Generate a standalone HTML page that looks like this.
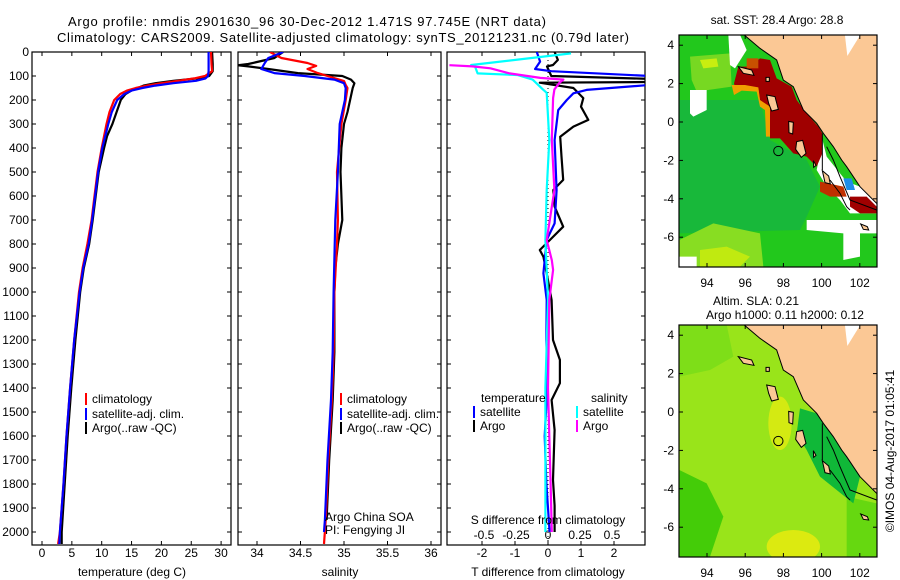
<!DOCTYPE html>
<html><head><meta charset="utf-8"><style>
html,body{margin:0;padding:0;background:#fff;}
svg{display:block;font-family:"Liberation Sans",sans-serif;}
text{font-size:12px;fill:#000;}
</style></head><body>
<svg id="chart" width="900" height="580" viewBox="0 0 900 580" xmlns="http://www.w3.org/2000/svg">
<defs>
<clipPath id="c1"><rect x="32" y="52" width="199" height="493"/></clipPath>
<clipPath id="c2"><rect x="238" y="52" width="203" height="493"/></clipPath>
<clipPath id="c3"><rect x="447" y="52" width="198" height="493"/></clipPath>
<clipPath id="m1"><rect x="679" y="35" width="198" height="232"/></clipPath>
<clipPath id="m2"><rect x="679" y="325" width="198" height="232"/></clipPath>
</defs>
<text x="68" y="26" textLength="478" style="font-size:13px">Argo profile: nmdis 2901630_96 30-Dec-2012 1.471S 97.745E (NRT data)</text>
<text x="57" y="42" textLength="572" style="font-size:13px">Climatology: CARS2009. Satellite-adjusted climatology: synTS_20121231.nc (0.79d later)</text>
<g id="plots"></g>
<g id="maps"></g>
</svg>
<script>
// ---- Temperature panel data ----
const tDepth = [0,50,80,100,110,120,130,140,150,160,175,200,250,300,350,400,500,600,700,800,900,1000,1200,1400,1600,1800,2000,2050];
const tClim  = [28.3,28.4,28.5,27.3,25.5,22.8,20,17.6,15.7,14.3,13.1,12.1,11.3,10.8,10.4,10.0,9.3,8.8,8.3,7.6,6.8,6.2,5.4,4.7,4.1,3.6,3.0,2.7];
const tSat   = [27.9,27.9,27.9,27.8,27.4,25.8,22,19,16.8,15.1,13.8,12.6,11.7,11.1,10.6,10.1,9.4,8.9,8.4,7.8,6.9,6.3,5.4,4.7,4.1,3.6,3.0,2.9];
const tArgo  = [28.5,28.6,28.6,28.0,26,22,19,17,16,15,14,13.2,12.5,11.8,10.9,10.4,9.5,9.0,8.5,7.9,7.0,6.4,5.6,4.9,4.3,3.8,3.3,3.3];
// ---- Salinity panel data ----
const sClimDepth = [0,25,46,58,71,88,100,121,137,150,200,300,500,700,800,1000,1250,1450,1700,1950,2050];
const sClim      = [34.15,34.28,34.58,34.68,34.58,34.70,34.81,35.0,35.02,35.04,35.02,34.97,34.92,34.93,34.92,34.89,34.88,34.86,34.82,34.79,34.77];
const sSatDepth  = [0,25,46,58,71,88,100,115,130,150,200,300,500,700,1000,1250,1450,1700,1950,2000];
const sSat       = [34.3,34.13,34.09,34.07,34.05,34.2,34.55,34.89,35.0,35.02,35.01,34.95,34.93,34.9,34.88,34.87,34.85,34.81,34.78,34.77];
const sArgoDepth = [0,25,50,55,60,71,88,100,115,130,150,200,250,300,400,500,700,800,900,1000,1250,1450,1700,1950];
const sArgo      = [34.3,34.2,33.9,33.78,33.9,34.13,34.47,34.98,35.08,35.12,35.1,35.07,35.04,35.0,34.97,34.96,34.98,34.93,34.9,34.89,34.89,34.87,34.83,34.8];
// ---- Difference panel data ----
const dTSatDepth  = [0,40,71,80,100,137,158,172,200,242,367,575,714,783,922,1033,1200,1400,1600,1800,2000];
const dTSat       = [-0.34,-0.24,-0.39,0.1,3.1,3.1,1.17,0.77,0.57,0.31,0.2,0.26,0.2,-0.04,-0.14,-0.04,-0.05,-0.02,-0.1,-0.05,0.05];
const dTArgoDepth = [0,33,54,60,100,112,125,128,150,192,228,283,311,353,436,533,575,644,728,783,825,853,922,1033,1200,1283,1380,1450,1575,1783,1890,2000];
const dTArgo      = [0.2,0.3,0.15,-0.03,0.1,3.1,3.1,-0.25,0.77,1.07,1.0,1.22,0.77,0.37,0.41,0.46,0.16,0.2,0.46,0.06,-0.25,-0.14,-0.04,0.11,0.15,0.36,0.36,0.11,0.2,0.15,0.2,0.2];
const dSSatDepth  = [6,54,60,89,96,115,156,170,367,575,783,1033,1400,1800,2000];
const dSSat       = [0.18,-0.6,-0.57,-0.55,-0.24,-0.12,-0.04,-0.01,0.01,-0.01,-0.02,0,-0.02,-0.02,-0.02];
const dSArgoDepth = [55,60,68,89,108,115,128,156,192,367,575,783,867,908,1033,1400,1800,2000];
const dSArgo      = [-0.77,-0.59,-0.45,-0.3,-0.06,0.12,0.09,0.05,0.04,0.03,0.05,-0.01,0.03,0.04,0.01,0.0,0.02,0.03];
// ---- Tick labels ----
const depthTicks = [0,100,200,300,400,500,600,700,800,900,1000,1100,1200,1300,1400,1500,1600,1700,1800,1900,2000];
const tempTicks = [0,5,10,15,20,25,30];
const salTicks = [34,34.5,35,35.5,36];
const dTTicks = [-2,-1,0,1,2];
const dSTicks = [-0.5,-0.25,0,0.25,0.5];

const NS='http://www.w3.org/2000/svg';
const plots=document.getElementById('plots');
function mk(tag,attrs,parent,txt){const e=document.createElementNS(NS,tag);for(const k in attrs)e.setAttribute(k,attrs[k]);if(txt!==undefined)e.textContent=txt;(parent||plots).appendChild(e);return e;}
const yD=d=>52+0.24*d;
const xT=t=>42+5.97*t;
const xS=s=>257+87*(s-34);
const xDT=v=>548+33*v;
const xDS=v=>548+128*v;
const TOP=52,BOT=545;

function frame(x0,x1,name){
  const r=mk('rect',{x:x0,y:TOP,width:x1-x0,height:BOT-TOP,fill:'none',stroke:'#000','stroke-width':1.2});
  
  
  depthTicks.forEach(d=>{
    mk('line',{x1:x0,x2:x0+4,y1:yD(d),y2:yD(d),stroke:'#000'});
    mk('line',{x1:x1-4,x2:x1,y1:yD(d),y2:yD(d),stroke:'#000'});
  });
}
function xticks(vals,fx,labelY,fmt){
  vals.forEach(v=>{
    const x=fx(v);
    mk('line',{x1:x,x2:x,y1:TOP,y2:TOP+4,stroke:'#000'});
    mk('line',{x1:x,x2:x,y1:BOT-4,y2:BOT,stroke:'#000'});
    const t=mk('text',{x:x,y:labelY,'text-anchor':'middle'},plots,fmt?fmt(v):String(v));
    
    
  });
}
function line(ds,vs,fx,color,clip,name){
  const pts=ds.map((d,i)=>fx(vs[i]).toFixed(1)+','+yD(d).toFixed(1)).join(' ');
  const p=mk('polyline',{points:pts,fill:'none',stroke:color,'stroke-width':2.2,'clip-path':'url(#'+clip+')','stroke-linejoin':'round'});
  
  
}
depthTicks.forEach(d=>{
  const t=mk('text',{x:29,y:yD(d)+4,'text-anchor':'end'},plots,String(d));
  
  
});
frame(32,231,'temperature-panel');
xticks(tempTicks,xT,557);
line(tDepth,tArgo,xT,'#000','c1','temp-argo-line');
line(tDepth,tClim,xT,'#f00','c1','temp-climatology-line');
line(tDepth,tSat,xT,'#00f','c1','temp-satellite-line');
frame(238,441,'salinity-panel');
xticks(salTicks,xS,557);
line(sArgoDepth,sArgo,xS,'#000','c2','sal-argo-line');
line(sClimDepth,sClim,xS,'#f00','c2','sal-climatology-line');
line(sSatDepth,sSat,xS,'#00f','c2','sal-satellite-line');
frame(447,645,'difference-panel');
xticks(dTTicks,xDT,557);
dSTicks.forEach(v=>{const t=mk('text',{x:xDS(v),y:539,'text-anchor':'middle'},plots,String(v));
  
  });
mk('line',{x1:548,x2:548,y1:TOP,y2:BOT,stroke:'#000','stroke-dasharray':'1,3'});
line(dTArgoDepth,dTArgo,xDT,'#000','c3','tdiff-argo-line');
line(dTSatDepth,dTSat,xDT,'#00f','c3','tdiff-satellite-line');
line(dSSatDepth,dSSat,xDS,'#0ff','c3','sdiff-satellite-line');
line(dSArgoDepth,dSArgo,xDS,'#f0f','c3','sdiff-argo-line');

function txt(x,y,s,name,anchor){const t=mk('text',{x:x,y:y,'text-anchor':anchor||'start'},plots,s);
  
  return t;}
txt(132,576,'temperature (deg C)','x-axis-title-temperature','middle');
txt(340,576,'salinity','x-axis-title-salinity','middle');
txt(548,576,'T difference from climatology','x-axis-title-tdiff','middle');
txt(548,524,'S difference from climatology','s-diff-axis-title','middle');
function leg(x,y,color,label,name){
  mk('line',{x1:x,x2:x,y1:y-10,y2:y+2,stroke:color,'stroke-width':2});
  txt(x+6,y,label,name);
}
[[86,'p1'],[341,'p2']].forEach(([lx,p])=>{
  leg(lx,403,'#f00','climatology','legend-climatology-'+p);
  leg(lx,418,'#00f','satellite-adj. clim.','legend-satellite-'+p);
  leg(lx,432,'#000','Argo(..raw -QC)','legend-argo-'+p);
});
txt(481,402,'temperature','legend-temperature-header');
leg(474,416,'#00f','satellite','legend-tdiff-satellite');
leg(474,430,'#000','Argo','legend-tdiff-argo');
txt(591,402,'salinity','legend-salinity-header');
leg(577,416,'#0ff','satellite','legend-sdiff-satellite');
leg(577,430,'#f0f','Argo','legend-sdiff-argo');
txt(325,521,'Argo China SOA','provider-label');
txt(325,534,'PI: Fengying JI','pi-label');
</script>

<script>
const maps=document.getElementById('maps');
const coast='235,90 300,145 350,180 370,240 400,260 430,330 470,370 490,400 520,440 545,480 560,500 600,560 650,610 670,610 670,90';
const islands=['235,200 275,210 282,226 250,220','318,232 328,232 328,244 318,244','320,285 345,290 355,328 335,333 326,310','386,364 400,367 398,402 387,398','410,425 428,421 438,460 424,472 407,448','460,482 468,496 461,502','487,512 506,528 511,552 495,548','602,672 622,680 626,690 610,688'];
function mapSVG(dy,clip,variant){
  let s='<g clip-path="url(#'+clip+')"><g transform="translate(660,'+dy+') scale(0.3333333)">';
  if(variant===1){
    s+='<rect x="50" y="90" width="620" height="720" fill="#22c81c"/>';
    s+='<polygon points="58,300 300,300 330,420 440,480 480,560 440,650 420,690 58,700" fill="#18b83a"/>';
    s+='<polygon points="90,170 210,160 215,260 110,275 95,240" fill="#77d822"/>';
    s+='<polygon points="120,180 170,175 175,200 130,205" fill="#c8ee10"/>';
    s+='<polygon points="58,720 160,670 300,700 310,800 58,800" fill="#88dd22"/>';
    s+='<polygon points="120,750 200,740 270,770 240,800 120,800" fill="#c0ea10"/>';
    s+='<polygon points="205,104 240,104 260,150 225,205 210,195" fill="#fff"/>';
    s+='<polygon points="90,270 140,270 140,330 100,350 90,340" fill="#fff"/>';
    s+='<polygon points="58,770 110,770 110,800 58,800" fill="#fff"/>';
    s+='<polygon points="440,660 650,660 650,700 600,700 600,770 550,780 550,700 440,690" fill="#fff"/>';
    s+='<polygon points="480,390 500,470 520,495 560,545 600,560 650,600 650,640 570,640 540,600 500,560 470,510 480,460" fill="#fff"/>';
    s+='<polygon points="235,200 270,200 300,175 330,180 350,235 395,260 410,300 440,340 475,380 487,400 487,460 470,500 440,470 400,460 360,415 330,415 330,330 300,300 295,265 250,260 230,278 222,250" fill="#a00000"/>';
    s+='<polygon points="260,175 295,175 295,205 260,205" fill="#c85000"/>';
    s+='<polygon points="215,255 255,255 295,262 300,300 330,320 330,410 318,410 315,330 300,320 290,275 245,272 222,285" fill="#f0a000"/>';
    s+='<polygon points="480,160 530,160 530,210 560,210 600,240 650,260 650,290 620,300 590,250 560,240 510,230 480,200" fill="#a00000"/>';
    s+='<polygon points="570,590 620,590 650,620 650,640 600,640 570,620" fill="#a00000"/>';
    s+='<polygon points="480,545 550,560 560,590 510,590 480,575" fill="#c03000"/>';
    s+='<polygon points="550,535 575,535 585,570 560,570" fill="#1e8ee8"/>';
    s+='<polygon points="600,230 620,230 620,250 600,250" fill="#f0c000"/>';
  } else {
    s+='<rect x="50" y="90" width="620" height="720" fill="#99e41a"/>';
    s+='<polygon points="58,104 200,104 220,200 150,240 58,260" fill="#7ede18"/>';
    s+='<polygon points="58,540 140,580 190,680 150,800 58,800" fill="#44cc08"/>';
    s+='<polygon points="560,620 650,640 650,800 560,800" fill="#66d810"/>';
    s+='<ellipse cx="360" cy="400" rx="35" ry="80" fill="#d4ea12"/>';
    s+='<ellipse cx="400" cy="770" rx="80" ry="50" fill="#dcea10"/>';
    s+='<polygon points="420,355 470,370 520,440 560,500 600,560 580,640 480,560 440,480 410,430" fill="#10b838"/>';
    s+='<polygon points="380,104 550,104 560,170 600,220 650,240 650,290 620,270 560,230 500,200 430,170 390,130" fill="#22cc08"/>';
  }
  s+='<polygon points="'+coast+'" fill="#fbc895" stroke="#000" stroke-width="3"/>';
  s+='<polygon points="553,90 610,90 562,168" fill="#fff"/>';
  islands.forEach(p=>{s+='<polygon points="'+p+'" fill="#fbc895" stroke="#000" stroke-width="3"/>';});
  s+='<polyline points="487,400 487,510" fill="none" stroke="#000" stroke-width="3"/>';
  s+='<polyline points="500,440 520,480 540,530 570,600 650,630" fill="none" stroke="#000" stroke-width="3"/>';
  s+='<polyline points="510,540 540,580 560,620 570,630" fill="none" stroke="#000" stroke-width="3"/>';
  s+='<circle cx="355" cy="453" r="14" fill="none" stroke="#000" stroke-width="3"/>';
  s+='</g></g>';
  return s;
}
const lonTicks=[94,96,98,100,102];
const latTicks=[4,2,0,-2,-4,-6];
function axes(y0,y1,lat0,labelY){
  let s='<rect x="679" y="'+y0+'" width="198" height="'+(y1-y0)+'" fill="none" stroke="#000" stroke-width="1.2"/>';
  lonTicks.forEach(l=>{const x=707+19.1*(l-94);
    s+='<line x1="'+x+'" x2="'+x+'" y1="'+y0+'" y2="'+(y0+4)+'" stroke="#000"/>';
    s+='<line x1="'+x+'" x2="'+x+'" y1="'+(y1-4)+'" y2="'+y1+'" stroke="#000"/>';
    s+='<text x="'+x+'" y="'+labelY+'" text-anchor="middle">'+l+'</text>';});
  latTicks.forEach(l=>{const y=lat0-19.2*l;
    s+='<line x1="679" x2="683" y1="'+y+'" y2="'+y+'" stroke="#000"/>';
    s+='<line x1="873" x2="877" y1="'+y+'" y2="'+y+'" stroke="#000"/>';
    s+='<text x="674" y="'+(y+4)+'" text-anchor="end">'+l+'</text>';});
  return s;
}
let html='';
html+='<g>'+mapSVG(0,'m1',1)+axes(35,267,122,287)+'</g>';
html+='<g>'+mapSVG(290,'m2',2)+axes(325,557,412,577)+'</g>';
html+='<text x="777" y="24" text-anchor="middle">sat. SST: 28.4 Argo: 28.8</text>';
html+='<text x="756" y="305" text-anchor="middle">Altim. SLA: 0.21</text>';
html+='<text x="785" y="319" text-anchor="middle">Argo h1000: 0.11 h2000: 0.12</text>';
html+='<text x="0" y="0" text-anchor="middle" transform="translate(894,451) rotate(-90)">©IMOS 04-Aug-2017 01:05:41</text>';
maps.innerHTML=html;
</script>
</body></html>
